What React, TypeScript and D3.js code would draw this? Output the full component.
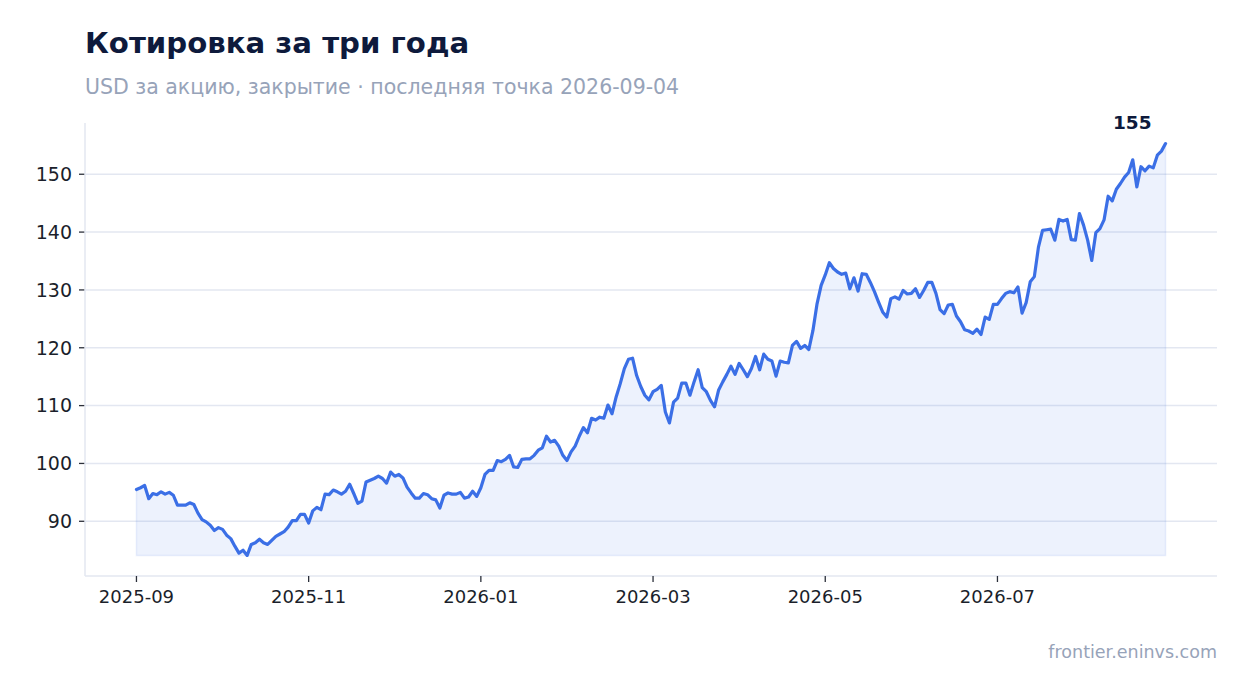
import React from "react";
import * as d3 from "d3";

const TITLE = "Котировка за три года";
const SUBTITLE = "USD за акцию, закрытие · последняя точка 2026-09-04";
const SOURCE = "frontier.eninvs.com";

const PRICES_A = [
  95.5, 95.8, 96.2, 93.9, 94.8, 94.6, 95.1, 94.7, 95.0, 94.5,
  92.8, 92.8, 92.8, 93.2, 92.9, 91.4, 90.3, 89.9, 89.3, 88.4,
  88.9, 88.6, 87.6, 87.0, 85.7, 84.5, 85.0, 84.1, 86.0, 86.3,
  86.9, 86.3, 86.0, 86.7, 87.4, 87.8, 88.2, 89.0, 90.1, 90.1,
  91.2, 91.2, 89.7, 91.8, 92.4, 92.0, 94.7, 94.6, 95.4, 95.1,
];
const PRICES_B = [
  94.7, 95.2, 96.4, 94.8, 93.1, 93.5, 96.8, 97.1, 97.4, 97.8,
  97.4, 96.6, 98.5, 97.8, 98.1, 97.5, 95.9, 94.9, 94.0, 94.0,
  94.8, 94.6, 93.9, 93.7, 92.3, 94.5, 94.9, 94.7, 94.7, 95.0,
  94.0, 94.2, 95.2, 94.3, 95.8, 98.1, 98.8, 98.8, 100.5, 100.3,
  100.7, 101.4, 99.4, 99.3, 100.7, 100.8, 100.8, 101.4, 102.3, 102.7,
  104.7, 103.7, 104.0, 103.0, 101.4, 100.5, 102.0, 103.0, 104.7, 106.2,
  105.3, 107.8,
];
const PRICES_C = [
  107.5, 108.0, 107.8, 110.1, 108.6, 111.5, 113.8, 116.4, 118.0, 118.2,
  115.2, 113.3, 111.8, 111.0, 112.4, 112.8, 113.5, 108.9, 107.0, 110.6,
  111.3, 113.9, 113.9, 111.8, 114.1, 116.2, 113.1, 112.4, 110.9, 109.8,
  112.7, 114.1, 115.4, 116.8, 115.4, 117.3, 116.2, 115.0, 116.4, 118.5,
  116.2, 118.9, 118.0, 117.7, 115.1, 117.7, 117.5, 117.4, 120.4, 121.1,
  119.9, 120.4, 119.7, 123.0, 127.6, 130.8, 132.6,
];
const PRICES_D = [
  134.7, 133.7, 133.1, 132.7, 132.9, 130.2, 132.1, 129.8, 132.8, 132.7,
  131.3, 129.7, 127.9, 126.2, 125.3, 128.5, 128.8, 128.4, 129.9, 129.3,
  129.4, 130.2, 128.7, 129.9, 131.3, 131.3, 129.4, 126.6, 125.9, 127.4,
  127.5, 125.5, 124.5, 123.1, 122.9, 122.5, 123.2, 122.3, 125.3, 124.9,
  127.5, 127.5, 128.5, 129.4, 129.7,
];
const PRICES_E = [
  129.5, 130.5, 126.0, 127.8, 131.4, 132.3, 137.4, 140.3, 140.4, 140.5,
  138.6, 142.2, 141.9, 142.2, 138.7, 138.6, 143.2, 141.2, 138.6, 135.1,
  139.9, 140.6, 142.1, 146.2, 145.4, 147.4, 148.4, 149.5, 150.3, 152.5,
  147.8, 151.3, 150.6, 151.4, 151.1, 153.3, 154.0, 155.3,
];
const PRICES = [...PRICES_A, ...PRICES_B, ...PRICES_C, ...PRICES_D, ...PRICES_E];

const Y_TICKS = [90, 100, 110, 120, 130, 140, 150];
const X_TICK_LABELS = ["2025-09", "2025-11", "2026-01", "2026-03", "2026-05", "2026-07"];
const X_TICK_STEP = 42; // trading sessions between labelled ticks

const W = 1247;
const H = 693;
const M = { left: 85, right: 30, top: 123, bottom: 117 };
const FONT = "'DejaVu Sans', sans-serif";

export default function App() {
  const n = PRICES.length;
  const data = PRICES.map((v, i) => ({ i, value: v }));

  const x = d3
    .scaleLinear()
    .domain([-(n - 1) * 0.05, (n - 1) * 1.05])
    .range([M.left, W - M.right]);

  const [mn, mx] = d3.extent(PRICES) as [number, number];
  const rng = mx - mn;
  const y = d3
    .scaleLinear()
    .domain([mn - rng * 0.05, mx + rng * 0.05])
    .range([H - M.bottom, M.top]);

  const line = d3
    .line<{ i: number; value: number }>()
    .x((d) => x(d.i))
    .y((d) => y(d.value));
  const area = d3
    .area<{ i: number; value: number }>()
    .x((d) => x(d.i))
    .y0(() => y(mn))
    .y1((d) => y(d.value));

  const last = data[n - 1];
  const x0 = M.left;
  const x1 = W - M.right;
  const yb = H - M.bottom;

  return (
    <svg
      width={W}
      height={H}
      viewBox={`0 0 ${W} ${H}`}
      style={{ position: "absolute", left: 0, top: 0, background: "#ffffff" }}
      fontFamily={FONT}
    >
      <text x={85} y={53} fontSize={29.2} fontWeight="bold" fill="#0e1a3c">
        {TITLE}
      </text>
      <text x={85} y={94} fontSize={20.5} fill="#97a3b9">
        {SUBTITLE}
      </text>

      {Y_TICKS.map((t) => (
        <g key={t}>
          <line x1={x0} x2={x1} y1={y(t)} y2={y(t)} stroke="#e3e7f1" strokeWidth={1.5} />
          <line x1={x0 - 6} x2={x0} y1={y(t)} y2={y(t)} stroke="#2b2f3a" strokeWidth={1.3} />
          <text x={x0 - 13} y={y(t)} dy="0.36em" textAnchor="end" fontSize={19} fill="#1b1f2b">
            {t}
          </text>
        </g>
      ))}

      <path d={area(data) || ""} fill="#3b6fe6" fillOpacity={0.09} stroke="#3b6fe6" strokeOpacity={0.1} strokeWidth={1.5} />
      <path d={line(data) || ""} fill="none" stroke="#3b6fe6" strokeWidth={3.2} strokeLinejoin="round" strokeLinecap="round" />

      <line x1={x0} x2={x0} y1={M.top} y2={yb} stroke="#e3e7f1" strokeWidth={1.5} />
      <line x1={x0} x2={x1} y1={yb} y2={yb} stroke="#e3e7f1" strokeWidth={1.5} />
      {X_TICK_LABELS.map((label, k) => {
        const xi = x(k * X_TICK_STEP);
        return (
          <g key={label}>
            <line x1={xi} x2={xi} y1={yb} y2={yb + 6} stroke="#2b2f3a" strokeWidth={1.3} />
            <text x={xi} y={yb + 27} textAnchor="middle" fontSize={18} fill="#1b1f2b">
              {label}
            </text>
          </g>
        );
      })}

      <text
        x={x(last.i) - 14}
        y={y(last.value) - 15}
        textAnchor="end"
        fontSize={18.5}
        fontWeight="bold"
        fill="#0e1a3c"
      >
        {d3.format(".0f")(last.value)}
      </text>

      <text x={x1} y={658} textAnchor="end" fontSize={17.5} fill="#97a3b9">
        {SOURCE}
      </text>
    </svg>
  );
}
